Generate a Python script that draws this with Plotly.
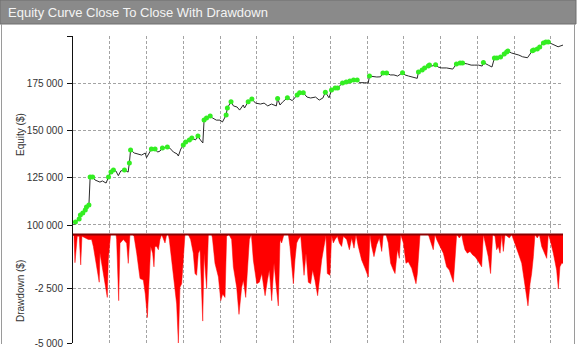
import numpy as np
import plotly.graph_objects as go

# ---------------- data ----------------
eq_trade = [0, 2, 5, 6, 8, 10, 11, 13, 14, 16,
            18, 22, 24, 27, 29, 31, 33, 35, 37, 39,
            42, 43, 45, 46, 47, 50, 53, 56, 59, 60,
            64, 67, 69, 71, 73, 77, 79, 82, 85, 86,
            88, 90, 92, 95, 97, 100, 102, 104, 106, 107,
            109, 112, 114, 117, 120, 122, 125, 126, 129, 131,
            134, 136, 139, 140, 143, 146, 149, 153, 156, 159,
            162, 166, 167, 169, 171, 175, 179, 183, 185, 188,
            191, 194, 198, 201, 204, 206, 209, 211, 214, 216,
            220, 223, 226, 229, 232, 234, 238, 241, 242, 245,
            248, 251, 253, 256, 259, 262, 265, 269, 271, 274,
            278, 281, 282, 285, 287, 290, 291, 293, 296, 298,
            301, 305, 308, 310, 313, 316, 318, 322, 325, 328,
            331, 334, 335, 339, 342, 344, 346, 349, 350, 352,
            354, 355, 358, 361, 364, 367, 371, 375, 376, 379,
            381, 384, 386, 388, 391, 394, 396, 400]
eq_value = [99400, 101600, 103200, 105300, 106300, 107900, 109500, 110600, 125400, 125400,
            123800, 122700, 123300, 122200, 125400, 128000, 129100, 128600, 126100, 128600,
            129100, 128600, 128000, 132800, 139700, 138100, 137600, 137000, 138100, 135600,
            140200, 140200, 138600, 139100, 140700, 141300, 140700, 138600, 137600, 136500,
            140200, 142300, 143900, 145000, 146000, 145000, 147100, 145000, 143400, 155500,
            156600, 157700, 156600, 155500, 155500, 154500, 158200, 161900, 165200, 163000,
            162400, 160800, 163500, 161900, 165200, 166700, 164500, 164000, 164500, 163000,
            164000, 163000, 166900, 163500, 165000, 167300, 165800, 168800, 170000, 170000,
            167700, 167200, 167700, 166100, 167200, 170300, 167300, 171400, 172500, 172500,
            175100, 175600, 176200, 176700, 176700, 175300, 175300, 175100, 178800, 178400,
            178300, 178400, 180400, 180400, 179400, 179400, 178800, 180600, 179400, 178800,
            178300, 177600, 180900, 182000, 183100, 184100, 184600, 184100, 184800, 183600,
            183100, 183100, 182500, 182500, 185200, 185700, 185700, 185200, 184600, 184600,
            184600, 184100, 186000, 184600, 183600, 188300, 188300, 188900, 188300, 190500,
            191500, 192000, 191000, 190500, 189900, 189000, 188500, 192200, 192600, 193100,
            194200, 196300, 196800, 196800, 195800, 194700, 194300, 195200]

dd_trade = [0, 0.8, 1.6, 2.4, 3.5, 5.1, 6.3, 7.3, 9.8, 12.5,
            15.2, 16.6, 17.9, 19.8, 21.4, 22.0, 24.7, 26.9, 28.0, 28.8,
            30.2, 30.7, 35.1, 35.6, 37.3, 38.4, 41.1, 43.8, 45.1, 46.5,
            48.7, 49.8, 52.0, 53.3, 54.7, 57.4, 59.0, 60.7, 62.3, 63.4,
            65.0, 66.1, 66.9, 68.3, 69.7, 71.0, 72.4, 73.7, 75.1, 76.5,
            77.8, 78.6, 80.5, 83.3, 84.6, 86.0, 87.3, 88.7, 90.0, 91.4,
            94.1, 96.0, 98.2, 99.6, 100.9, 102.3, 103.7, 105.9, 107.0, 109.1,
            110.5, 113.2, 113.8, 115.9, 118.7, 120.6, 122.2, 124.1, 125.4, 127.3,
            129.5, 130.9, 133.6, 135.5, 137.7, 139.1, 141.0, 142.3, 144.0, 145.6,
            147.2, 150.0, 152.1, 154.1, 156.8, 158.7, 160.3, 162.2, 164.1, 165.7,
            167.6, 169.0, 170.3, 172.2, 175.8, 177.1, 178.5, 179.9, 181.2, 182.6,
            183.9, 185.9, 188.6, 190.2, 192.1, 194.0, 195.6, 197.5, 199.7, 201.1,
            203.0, 204.9, 206.5, 207.6, 209.8, 211.1, 212.5, 213.9, 215.8, 217.4,
            219.3, 220.7, 223.4, 225.6, 227.5, 229.4, 231.0, 232.9, 235.6, 238.4,
            241.1, 242.4, 243.8, 245.7, 247.9, 250.1, 252.0, 253.3, 255.5, 257.4,
            259.3, 261.5, 262.9, 264.8, 266.4, 267.5, 269.7, 271.8, 273.7, 276.5,
            278.4, 280.0, 281.1, 282.2, 283.3, 290.1, 291.4, 292.8, 294.1, 295.5,
            296.9, 299.6, 302.3, 305.0, 307.2, 309.1, 310.5, 311.8, 313.2, 315.4,
            317.3, 318.6, 320.0, 321.9, 324.1, 326.3, 328.2, 330.1, 332.2, 333.6,
            335.0, 337.1, 339.0, 340.9, 342.6, 344.5, 345.8, 347.2, 348.6, 350.0,
            351.3, 352.7, 354.6, 356.2, 358.1, 360.8, 363.5, 366.3, 368.2, 370.3,
            371.4, 373.1, 374.4, 375.8, 377.1, 379.0, 380.7, 382.6, 383.9, 385.3,
            386.7, 388.0, 389.4, 392.1, 393.5, 394.8, 396.2, 397.5, 398.9, 400.0]
dd_value = [0, -80, -1300, -700, -80, -80, -1400, -80, -150, -230,
            -230, -550, -1000, -1650, -2200, -850, -1800, -2400, -2900, -1170,
            -230, 0, 0, -230, -3050, -400, -230, -400, -1330, 0,
            0, -80, -860, -1560, -2030, -2100, -2740, -3830, -2100, -550,
            -860, -1490, -550, -550, -700, -230, 0, -230, -390, 0,
            0, -230, -1170, -2270, -3200, -5000, -2430, -2270, -1170, 0,
            0, -230, -860, -1800, -1880, -860, -700, -3990, -860, -2500,
            0, 0, -160, -1330, -1960, -3050, -2740, -2900, -80, 0,
            -230, -1490, -2430, -3680, -2430, -2110, -2900, -1640, -230, 0,
            -1170, -2270, -2200, -1800, -2820, -2110, -1640, -3050, -1330, -2270,
            -3290, -230, -390, 0, 0, -550, -1330, -2270, -1170, -390,
            -230, -80, -1880, -860, -2200, -2270, -1640, -2110, -2820, -1960,
            -1170, -550, -50, -1800, -1880, -50, -390, -230, -80, -390,
            -550, -80, -230, -700, -160, -630, 0, -550, -1170, -1560,
            -1960, 0, -550, -1020, -470, -160, -780, 0, 0, -390,
            -1330, -1640, -1800, -700, -1100, 0, -390, -1330, -1250, -1560,
            -1960, -2270, -1800, -550, 0, 0, -230, -550, -700, 0,
            -230, -550, -860, -1490, -1640, -1960, -2200, -1170, 0, -160,
            0, -390, -700, -860, -780, -940, -1020, -1170, -1330, -1490,
            0, -550, -1020, -1800, 0, -80, -700, -550, -860, 0,
            -780, 0, -80, -160, 0, -390, -860, -1330, -2110, -2740,
            -3290, -2270, -1800, -1020, 0, -160, 0, -550, -700, -860,
            -1100, 0, -230, -860, -1330, -1640, -2500, -1490, -1330, -1330]

start_capital = 100000
equity_ticks = [100000, 125000, 150000, 175000, 200000]
equity_labels = ["100 000", "125 000", "150 000", "175 000", ""]
dd_ticks = [-2500, -5000]
dd_labels = ["-2 500", "-5 000"]

title_text = "Equity Curve Close To Close With Drawdown"

# new equity highs get a green marker
eq_arr = np.array(eq_value, dtype=float)
peak = np.maximum.accumulate(np.r_[start_capital, eq_arr])[1:]
is_high = eq_arr >= peak
hi_x = [t for t, h in zip(eq_trade, is_high) if h]
hi_y = [v for v, h in zip(eq_value, is_high) if h]

# ---------------- layout geometry ----------------
W, H = 578, 357
ML, MR, MT, MB = 73, 15, 36, 14
PW, PH = W - ML - MR, H - MT - MB


def px2x(px):
    return (px - ML) / PW


def py2y(py):
    return (H - MB - py) / PH


split = py2y(225)

FONT = "Liberation Sans, Arial, sans-serif"
GRID = "#a3a3a3"

fig = go.Figure()
fig.add_trace(go.Scatter(x=eq_trade, y=eq_value, mode="lines",
                         line=dict(color="#2a2a2a", width=1),
                         xaxis="x", yaxis="y", hoverinfo="skip"))
fig.add_trace(go.Scatter(x=hi_x, y=hi_y, mode="markers",
                         marker=dict(color="#33ee22", size=5, line=dict(width=0)),
                         xaxis="x", yaxis="y"))
fig.add_trace(go.Scatter(x=dd_trade, y=dd_value, mode="lines", fill="tozeroy",
                         fillcolor="#ff0000", line=dict(color="#ff0000", width=0.5),
                         xaxis="x2", yaxis="y2"))

axis_common = dict(range=[0, 400], dtick=30, tick0=0, showgrid=True, gridcolor=GRID,
                   griddash="3px,2px", gridwidth=1, showticklabels=False,
                   zeroline=False, ticks="", showline=False)

yfont = dict(family=FONT, size=10, color="#333333")

fig.update_layout(
    width=W, height=H,
    margin=dict(l=ML, r=MR, t=MT, b=MB, autoexpand=False),
    paper_bgcolor="white", plot_bgcolor="white",
    showlegend=False,
    xaxis=dict(domain=[0, 1], anchor="y", **axis_common),
    xaxis2=dict(domain=[0, 1], anchor="y2", matches="x", **axis_common),
    yaxis=dict(domain=[split, 1], range=[100000, 200000], tickvals=equity_ticks,
               ticktext=equity_labels, showgrid=True, gridcolor=GRID,
               griddash="3px,2px", zeroline=False, showline=True, linecolor="#111111",
               linewidth=1, ticks="outside", ticklen=5, tickcolor="#111111",
               tickfont=yfont, ticklabelstandoff=2),
    yaxis2=dict(domain=[0, split], range=[-5000, 438], tickvals=dd_ticks,
                ticktext=dd_labels, showgrid=True, gridcolor=GRID,
                griddash="3px,2px", zeroline=False, showline=True, linecolor="#111111",
                linewidth=1, ticks="outside", ticklen=5, tickcolor="#111111",
                tickfont=yfont, ticklabelstandoff=2),
)

shapes = [
    # title bar
    dict(type="rect", xref="paper", yref="paper", x0=px2x(0), x1=px2x(576),
         y0=py2y(24), y1=py2y(0), fillcolor="#8a8a8a",
         line=dict(color="#6e6e6e", width=1), layer="above"),
    # frame sides
    dict(type="line", xref="paper", yref="paper", x0=px2x(1.5), x1=px2x(1.5),
         y0=py2y(24), y1=py2y(344), line=dict(color="#9a9a9a", width=1)),
    dict(type="line", xref="paper", yref="paper", x0=px2x(574.5), x1=px2x(574.5),
         y0=py2y(24), y1=py2y(344), line=dict(color="#9a9a9a", width=1)),
    # base of equity panel (darker dashed line)
    dict(type="line", xref="x", yref="y", x0=0, x1=400, y0=start_capital, y1=start_capital,
         line=dict(color="#444444", width=1, dash="3px,2px")),
    # drawdown zero line
    dict(type="line", xref="x2", yref="y2", x0=0, x1=400, y0=0, y1=0,
         line=dict(color="#8b0000", width=2), layer="above"),
]
fig.update_layout(shapes=shapes)

annotations = [
    dict(text=title_text, xref="paper", yref="paper", x=px2x(6), y=py2y(12.5),
         xanchor="left", yanchor="middle", showarrow=False,
         font=dict(family=FONT, size=13, color="#f4f4f4")),
    dict(text="Equity ($)", xref="paper", yref="paper", x=px2x(20), y=py2y(135),
         xanchor="center", yanchor="middle", textangle=-90, showarrow=False,
         font=dict(family=FONT, size=10, color="#333333")),
    dict(text="Drawdown ($)", xref="paper", yref="paper", x=px2x(20), y=py2y(291),
         xanchor="center", yanchor="middle", textangle=-90, showarrow=False,
         font=dict(family=FONT, size=10, color="#333333")),
]
fig.update_layout(annotations=annotations)

fig.write_html(
    "out.html",
    config={"displayModeBar": False},
    post_script="document.body.style.margin='0';document.body.style.padding='0';"
                "document.documentElement.style.overflow='hidden';",
)
